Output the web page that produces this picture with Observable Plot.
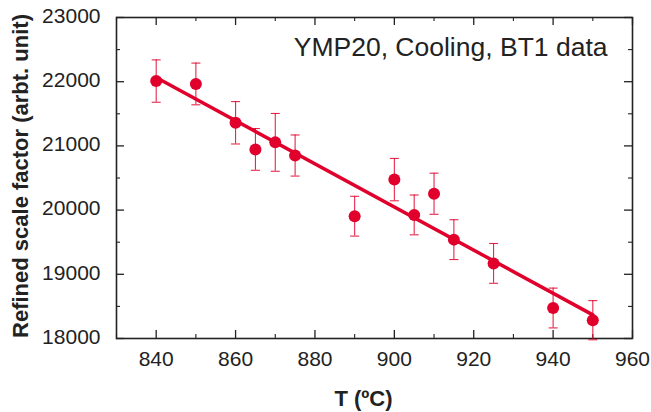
<!DOCTYPE html>
<html>
<head>
<meta charset="utf-8">
<script src="https://cdn.jsdelivr.net/npm/d3@7"></script>
<script src="https://cdn.jsdelivr.net/npm/@observablehq/plot@0.6"></script>
<style>
  html, body { margin: 0; padding: 0; background: #fff; }
</style>
</head>
<body>
<div id="chart"></div>
<script>
// Data
const temperature = [840, 850, 860, 865, 870, 875, 890, 900, 905, 910, 915, 925, 940, 950];
const scaleFactor = [22010, 21965, 21360, 20945, 21055, 20850, 19905, 20475, 19925, 20255, 19540, 19170, 18475, 18285];
const errorBar    = [330, 325, 330, 325, 450, 320, 310, 330, 310, 320, 310, 310, 310, 305];

const xMajorTicks = [840, 860, 880, 900, 920, 940, 960];
const xMinorTicks = [830, 850, 870, 890, 910, 930, 950];
const yMajorTicks = [18000, 19000, 20000, 21000, 22000, 23000];
const yMinorTicks = [18500, 19500, 20500, 21500, 22500];

const xLabel = "T (ºC)";
const yLabel = "Refined scale factor (arbt. unit)";
const annotation = "YMP20, Cooling, BT1 data";

const data = temperature.map((t, i) => ({t, v: scaleFactor[i], e: errorBar[i]}));

const W = 651, H = 412;
const mL = 116, mR = 19, mT = 17, mB = 74;
const innerW = W - mL - mR, innerH = H - mT - mB;
const red = "#e0002b";
const ink = "#222";
const majorLen = 8, minorLen = 4;

const capSymbol = {
  draw(context) {
    context.moveTo(-4.5, 0);
    context.lineTo(4.5, 0);
  }
};

const chart = Plot.plot({
  width: W,
  height: H,
  marginLeft: mL,
  marginRight: mR,
  marginTop: mT,
  marginBottom: mB,
  style: {fontFamily: "Liberation Sans, Arial, sans-serif", fontSize: "21px", color: ink, background: "#fff"},
  x: {domain: [830, 960]},
  y: {domain: [18000, 23000]},
  marks: [
    // tick labels
    Plot.axisX({ticks: xMajorTicks, tickSize: 0, tickPadding: 13, label: null, tickFormat: d => String(d), fill: ink, fontSize: 21}),
    Plot.axisY({ticks: yMajorTicks, tickSize: 0, tickPadding: 16, dy: -1.5, label: null, tickFormat: d => String(d), fill: ink, fontSize: 21}),
    // inward ticks: bottom & top
    Plot.tickX(xMajorTicks, {x: d => d, insetTop: innerH - majorLen, stroke: ink, strokeWidth: 1.3}),
    Plot.tickX(xMinorTicks, {x: d => d, insetTop: innerH - minorLen, stroke: ink, strokeWidth: 1.1}),
    Plot.tickX(xMajorTicks, {x: d => d, insetBottom: innerH - majorLen, stroke: ink, strokeWidth: 1.3}),
    Plot.tickX(xMinorTicks, {x: d => d, insetBottom: innerH - minorLen, stroke: ink, strokeWidth: 1.1}),
    // inward ticks: left & right
    Plot.tickY(yMajorTicks, {y: d => d, insetRight: innerW - majorLen, stroke: ink, strokeWidth: 1.3}),
    Plot.tickY(yMinorTicks, {y: d => d, insetRight: innerW - minorLen, stroke: ink, strokeWidth: 1.1}),
    Plot.tickY(yMajorTicks, {y: d => d, insetLeft: innerW - majorLen, stroke: ink, strokeWidth: 1.3}),
    Plot.tickY(yMinorTicks, {y: d => d, insetLeft: innerW - minorLen, stroke: ink, strokeWidth: 1.1}),
    Plot.frame({stroke: ink, strokeWidth: 1.6}),
    // error bars
    Plot.ruleX(data, {x: "t", y1: d => d.v - d.e, y2: d => d.v + d.e, stroke: red, strokeWidth: 1.1, strokeOpacity: 0.85}),
    Plot.dot(data, {x: "t", y: d => d.v - d.e, symbol: capSymbol, stroke: red, strokeWidth: 1.1, strokeOpacity: 0.85, fill: "none"}),
    Plot.dot(data, {x: "t", y: d => d.v + d.e, symbol: capSymbol, stroke: red, strokeWidth: 1.1, strokeOpacity: 0.85, fill: "none"}),
    // linear fit
    Plot.linearRegressionY(data, {x: "t", y: "v", ci: 0, stroke: red, strokeWidth: 3.5}),
    // points
    Plot.dot(data, {x: "t", y: "v", r: 6, fill: red, stroke: "none"}),
    // annotation and axis labels
    Plot.text([annotation], {frameAnchor: "top-right", textAnchor: "end", lineAnchor: "middle", dx: -25, dy: 30, fontSize: 26.5, fill: ink}),
    Plot.text([xLabel], {frameAnchor: "bottom", textAnchor: "middle", lineAnchor: "middle", dx: -11, dy: 60, fontSize: 22, fontWeight: "bold", fill: ink}),
    Plot.text([yLabel], {frameAnchor: "left", textAnchor: "middle", rotate: -90, lineAnchor: "middle", dx: -96, dy: -2, fontSize: 22, fontWeight: "bold", fill: ink})
  ]
});

document.getElementById("chart").appendChild(chart);
</script>
</body>
</html>
